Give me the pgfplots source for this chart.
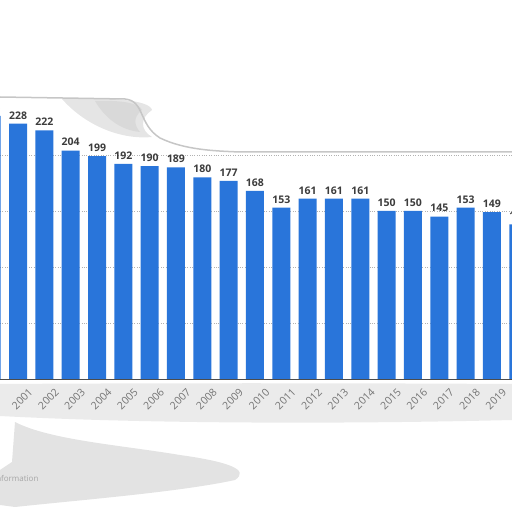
\documentclass[border=0pt]{standalone}
\usepackage{fontspec}
\setmainfont{Open Sans}
\usepackage{pgfplots}
\pgfplotsset{compat=1.18}
\definecolor{barblue}{RGB}{41,117,218}
\definecolor{labelgray}{RGB}{60,60,60}
\definecolor{tickgray}{RGB}{115,115,115}

\begin{document}
\begin{tikzpicture}
\useasboundingbox (0,0) rectangle (512pt,512pt);
\clip (0,0) rectangle (512pt,512pt);

% smudges of the reference (image pixel coordinates, y downwards)
\begin{scope}[x=1pt, y=-1pt, yshift=512pt]
  \fill[gray!20] (62,99) .. controls (110,97) and (150,100) .. (152,110)
        .. controls (140,118) and (140,130) .. (152,137) .. controls (120,140) and (85,125) .. (62,99) -- cycle;
  \fill[gray!30] (95,101) .. controls (120,100) and (140,103) .. (142,110)
        .. controls (132,118) and (135,126) .. (140,132) .. controls (120,130) and (105,118) .. (95,101) -- cycle;
  \draw[gray!45, line width=1.5pt] (0,97) -- (125,99) .. controls (145,101) and (138,124) .. (160,138)
        .. controls (185,150) and (215,151) .. (240,152) -- (512,152);
  \fill[gray!16] (0,384) .. controls (150,383) and (350,383) .. (512,384) -- (512,420)
        .. controls (350,424) and (150,424) .. (0,416) -- cycle;
  \fill[gray!22] (15,422) .. controls (50,440) and (120,445) .. (180,455)
        .. controls (230,462) and (250,470) .. (235,480)
        .. controls (180,492) and (80,500) .. (15,507) -- (0,505) -- (0,470) -- (12,462) -- cycle;
  \node[anchor=east, text=gray!70, font=\fontsize{8}{9}\selectfont] at (42,478) {Additional Information};
\end{scope}

\begin{axis}[
    at={(0pt,133pt)}, anchor=south west,
    scale only axis,
    width=512pt, height=280pt,
    xmin=2000.316, xmax=2019.761,
    ymin=0, ymax=250,
    clip=false,
    axis x line*=bottom, axis y line*=left,
    x axis line style={draw=black!70, line width=0.8pt},
    y axis line style={draw=none},
    ytick={50,100,150,200}, yticklabels={},
    ymajorgrids, grid style={dotted, gray!60},
    xtick={2000,...,2021},
    major tick length=0pt,
    /pgf/number format/1000 sep={},
    /pgf/number format/assume math mode=true,
    xticklabel style={rotate=45, anchor=north east, text=tickgray,
        font=\fontsize{10.5}{12}\selectfont, inner sep=0pt, yshift=-13pt, xshift=1pt},
    ybar, bar width=18pt,
    nodes near coords,
    every node near coord/.append style={text=labelgray,
        font=\bfseries\fontsize{10.5}{12}\selectfont, yshift=1pt},
]
\addplot[fill=barblue, draw=none] coordinates {
  (2000,235) (2001,228) (2002,222) (2003,204) (2004,199) (2005,192) (2006,190)
  (2007,189) (2008,180) (2009,177) (2010,168) (2011,153) (2012,161) (2013,161)
  (2014,161) (2015,150) (2016,150) (2017,145) (2018,153) (2019,149) (2020,138)
};
\end{axis}
\end{tikzpicture}
\end{document}
